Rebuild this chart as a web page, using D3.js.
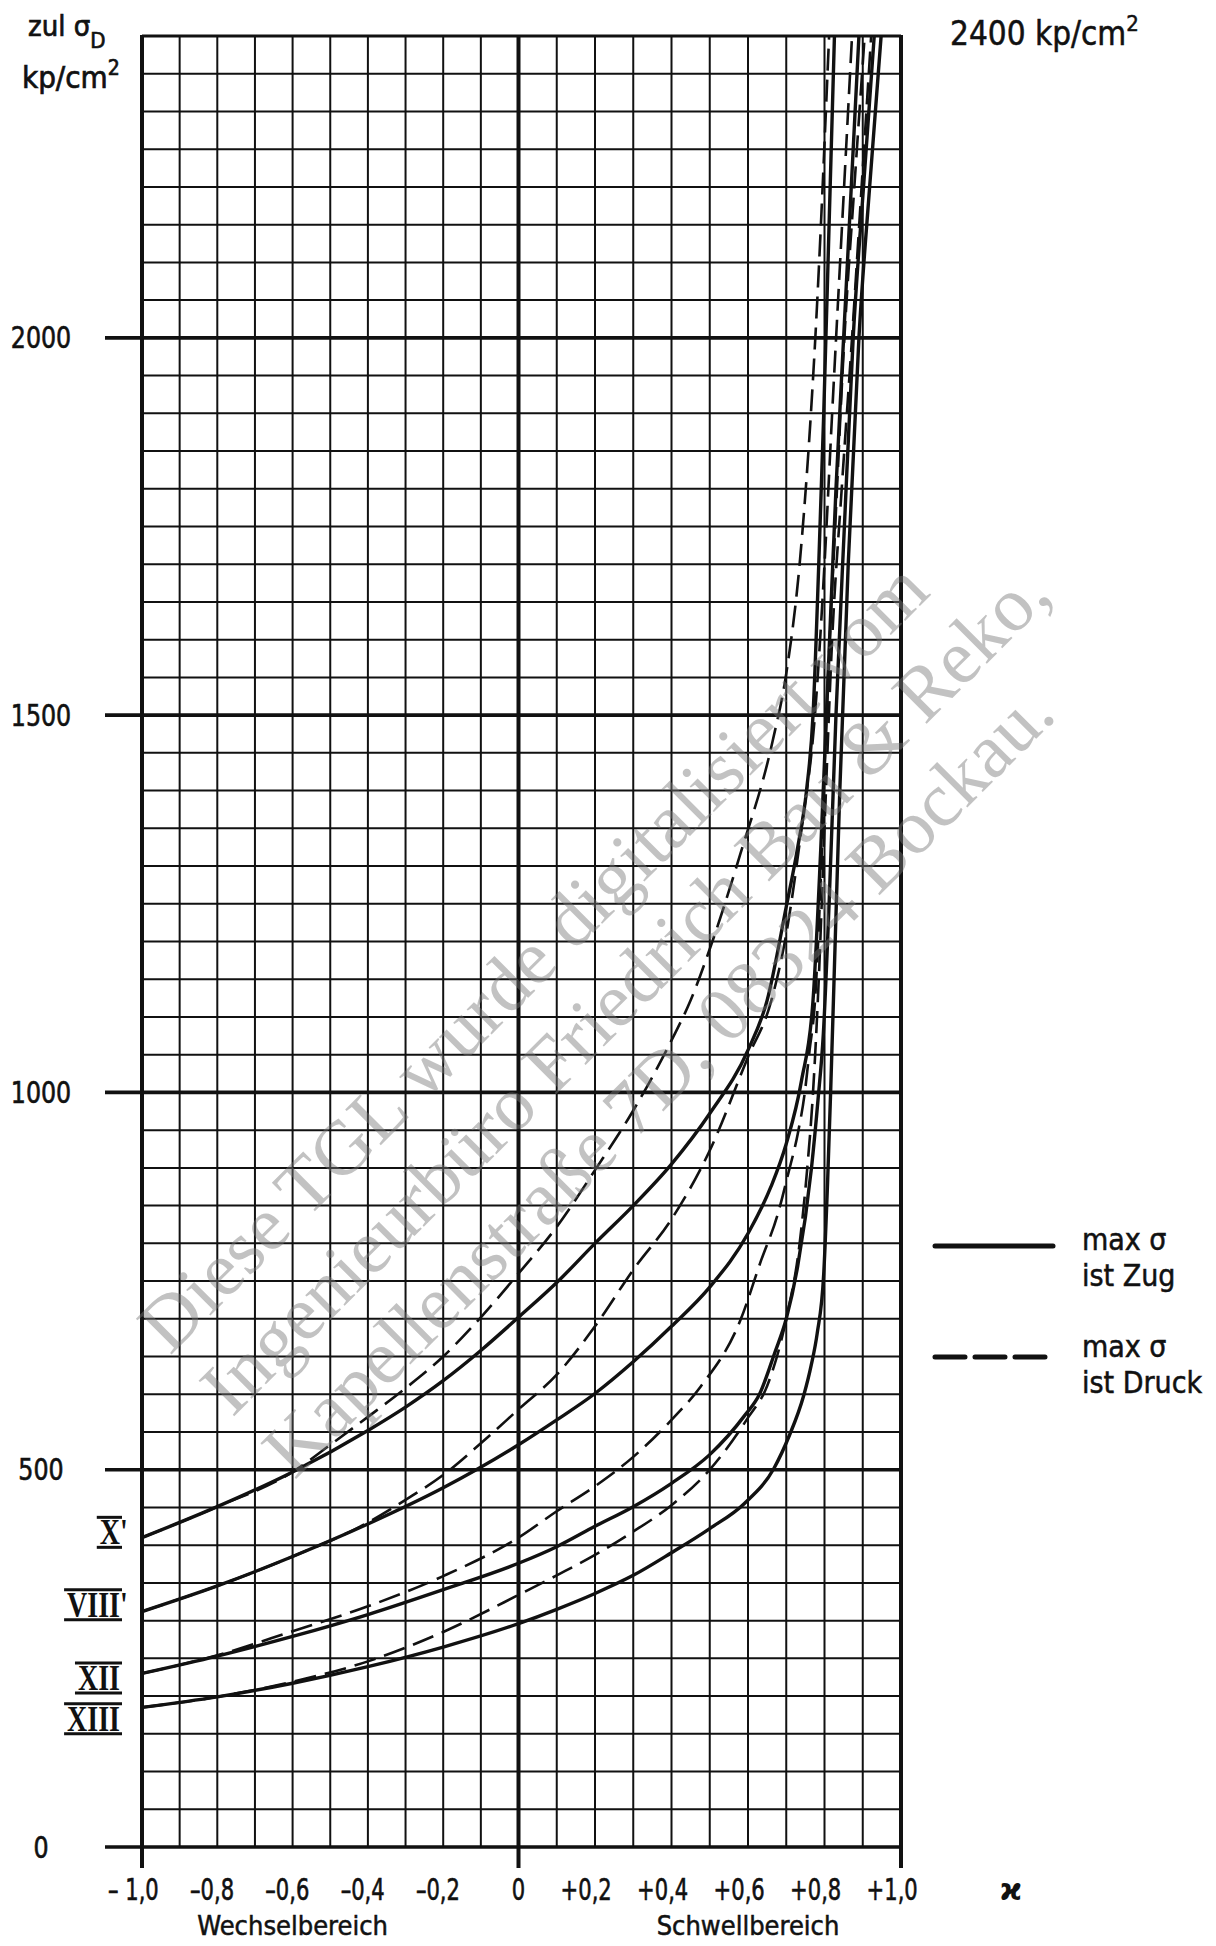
<!DOCTYPE html>
<html><head><meta charset="utf-8">
<script src="https://cdn.jsdelivr.net/npm/d3@7"></script>
<style>
html,body{margin:0;padding:0;background:#fff;}
svg{display:block;}
</style></head><body>
<svg id="chart" width="1216" height="1946"></svg>
<script>
// ---------------- data ----------------
const xTickValues = [-1, -0.8, -0.6, -0.4, -0.2, 0, 0.2, 0.4, 0.6, 0.8, 1];
const xTickLabels = ["– 1,0", "–0,8", "–0,6", "–0,4", "–0,2", "0", "+0,2", "+0,4", "+0,6", "+0,8", "+1,0"];
const xTickSignLen = [2, 1, 1, 1, 1, 0, 1, 1, 1, 1, 1];
const yTickValues = [0, 500, 1000, 1500, 2000];
const yTickLabels = ["0", "500", "1000", "1500", "2000"];

const curveNames = ["X'", "VIII'", "XII", "XIII"];
const curveNameLen = [1, 4, 3, 4];
const curveLabelNudge = [7, 9, -6, -15];

// max σ ist Zug (solid)
const zugX = [[-1,410],[-0.8,451],[-0.6,497],[-0.4,552],[-0.3,583],[-0.2,618],[-0.1,658],[0,702],[0.1,748],[0.2,800],[0.3,850],[0.4,905],[0.5,972],[0.6,1056],[0.65,1122],[0.7,1246],[0.73,1325],[0.753,1400],[0.77,1500],[0.785,1700],[0.798,1900],[0.812,2150],[0.826,2400]];
const zugVIII = [[-1,312],[-0.8,346],[-0.6,385],[-0.4,428],[-0.2,476],[0,533],[0.1,566],[0.2,601],[0.3,643],[0.4,690],[0.5,742],[0.6,813],[0.66,875],[0.7,932],[0.74,1016],[0.77,1122],[0.79,1320],[0.81,1560],[0.83,1800],[0.85,2000],[0.87,2200],[0.89,2400]];
const zugXII = [[-1,230],[-0.8,253],[-0.6,279],[-0.4,308],[-0.2,341],[0,376],[0.1,398],[0.2,425],[0.3,451],[0.4,482],[0.5,520],[0.59,571],[0.63,600],[0.67,655],[0.7,700],[0.73,770],[0.766,900],[0.783,990],[0.797,1078],[0.812,1250],[0.83,1500],[0.852,1750],[0.875,2000],[0.902,2200],[0.93,2400]];
const zugXIII = [[-1,185],[-0.8,199],[-0.6,217],[-0.4,239],[-0.2,265],[0,296],[0.1,315],[0.2,336],[0.3,360],[0.4,390],[0.5,422],[0.59,455],[0.668,502],[0.707,544],[0.746,599],[0.765,638],[0.781,681],[0.798,760],[0.808,880],[0.816,1000],[0.825,1150],[0.84,1400],[0.862,1700],[0.89,2000],[0.918,2200],[0.948,2400]];

// max σ ist Druck (dashed)
const druckX = [[-1,410],[-0.8,451],[-0.6,497],[-0.5,533],[-0.4,570],[-0.3,608],[-0.2,650],[-0.1,702],[0,760],[0.1,822],[0.2,897],[0.3,976],[0.4,1069],[0.45,1122],[0.5,1190],[0.58,1316],[0.665,1467],[0.7,1555],[0.736,1706],[0.776,2000],[0.812,2400]];
const druckVIII = [[-1,312],[-0.8,346],[-0.6,385],[-0.4,430],[-0.3,460],[-0.2,493],[-0.1,535],[0,580],[0.1,626],[0.2,690],[0.3,765],[0.4,832],[0.5,923],[0.6,1047],[0.66,1120],[0.7,1210],[0.74,1350],[0.775,1500],[0.8,1700],[0.82,1900],[0.846,2150],[0.872,2400]];
const druckXII = [[-1,230],[-0.8,254],[-0.6,286],[-0.4,319],[-0.2,359],[0,410],[0.1,445],[0.2,478],[0.3,517],[0.4,566],[0.476,610],[0.58,698],[0.634,777],[0.678,839],[0.705,892],[0.73,945],[0.748,998],[0.761,1056],[0.775,1120],[0.79,1280],[0.805,1500],[0.828,1750],[0.852,2000],[0.878,2200],[0.905,2400]];
const druckXIII = [[-1,185],[-0.8,199],[-0.6,219],[-0.4,246],[-0.2,285],[0,334],[0.1,360],[0.2,387],[0.3,418],[0.4,453],[0.5,500],[0.6,569],[0.65,611],[0.7,700],[0.735,800],[0.755,900],[0.77,1000],[0.785,1150],[0.8,1350],[0.82,1600],[0.845,1800],[0.872,2000],[0.897,2200],[0.922,2400]];

const zugSeries = [zugX, zugVIII, zugXII, zugXIII];
const druckSeries = [druckX, druckVIII, druckXII, druckXIII];

const legendLabels = [["max σ", "ist Zug"], ["max σ", "ist Druck"]];
const watermarkLines = ["Diese TGL wurde digitalisiert vom", "Ingenieurbüro Friedrich Bau & Reko,", "Kapellenstraße 7D, 08324 Bockau."];

// ---------------- drawing ----------------
const INK = "#111";
const FONT = "'DejaVu Sans Condensed','DejaVu Sans',sans-serif";
const SERIF = "'Liberation Serif','DejaVu Serif',serif";
const svg = d3.select("#chart");
svg.append("rect").attr("width", 1216).attr("height", 1946).attr("fill", "#fff");

const x = d3.scaleLinear().domain([-1, 0, 1]).range([142, 518.5, 901]);
const y = d3.scaleLinear().domain([0, 2400]).range([1847, 36]);

// squeeze helper (narrow lettering of the original)
function squeeze(sel, f) {
  sel.each(function() {
    const w = this.getComputedTextLength();
    d3.select(this).attr("textLength", w * f).attr("lengthAdjust", "spacingAndGlyphs");
  });
}

// grid
const grid = svg.append("g");
const vLines = d3.range(-10, 11).map(i => i / 10);
grid.selectAll("line.v").data(vLines).join("line")
  .attr("x1", d => x(d)).attr("x2", d => x(d))
  .attr("y1", y(2400) - 1)
  .attr("y2", d => (Math.abs(d) === 1 || d === 0) ? y(0) + 21 : y(0))
  .attr("stroke", INK)
  .attr("stroke-width", d => (Math.abs(d) === 1 || d === 0) ? 4 : 2);
const hLines = d3.range(0, 2401, 50);
grid.selectAll("line.h").data(hLines).join("line")
  .attr("x1", d => (d % 500 === 0) ? 105 : x(-1))
  .attr("x2", x(1))
  .attr("y1", d => y(d)).attr("y2", d => y(d))
  .attr("stroke", INK)
  .attr("stroke-width", d => (d % 500 === 0) ? 3.6 : (d === 2400 ? 2.8 : 2));

// clip
svg.append("clipPath").attr("id", "plotclip").append("rect")
  .attr("x", x(-1)).attr("y", y(2400)).attr("width", x(1) - x(-1)).attr("height", y(0) - y(2400));

const line = d3.line().x(d => x(d[0])).y(d => y(d[1])).curve(d3.curveMonotoneX);
const curves = svg.append("g").attr("clip-path", "url(#plotclip)");
curves.selectAll("path.druck").data(druckSeries).join("path")
  .attr("d", line).attr("fill", "none").attr("stroke", INK)
  .attr("stroke-width", 2.6).attr("stroke-dasharray", "22,9");
curves.selectAll("path.zug").data(zugSeries).join("path")
  .attr("d", line).attr("fill", "none").attr("stroke", INK)
  .attr("stroke-width", 3.4);

// y tick labels
const ytl = svg.selectAll("text.ytick").data(yTickValues).join("text")
  .attr("x", 41).attr("y", d => y(d))
  .attr("text-anchor", "middle").attr("dominant-baseline", "central")
  .attr("font-family", FONT).attr("font-size", 30).attr("fill", INK)
  .attr("stroke", INK).attr("stroke-width", 0.6)
  .text((d, i) => yTickLabels[i]);
squeeze(ytl, 0.88);

// x tick labels: digits centred on the tick, sign hanging left
const XF = 0.78;
const xt = svg.selectAll("text.xtick").data(xTickValues).join("text")
  .attr("y", 1900)
  .attr("font-family", FONT).attr("font-size", 30).attr("fill", INK)
  .attr("stroke", INK).attr("stroke-width", 0.6)
  .attr("text-anchor", "start")
  .text((d, i) => xTickLabels[i]);
xt.each(function(d, i) {
  const total = this.getComputedTextLength();
  const n = xTickSignLen[i];
  const signW = n > 0 ? this.getSubStringLength(0, n) : 0;
  d3.select(this)
    .attr("x", x(d) - (signW + (total - signW) / 2) * XF)
    .attr("textLength", total * XF).attr("lengthAdjust", "spacingAndGlyphs");
});

// axis captions
const cap1 = svg.append("text").attr("x", x(-0.6)).attr("y", 1935).attr("text-anchor", "middle")
  .attr("font-family", FONT).attr("font-size", 27).attr("fill", INK)
  .attr("stroke", INK).attr("stroke-width", 0.5).text("Wechselbereich");
const cap2 = svg.append("text").attr("x", x(0.6)).attr("y", 1935).attr("text-anchor", "middle")
  .attr("font-family", FONT).attr("font-size", 27).attr("fill", INK)
  .attr("stroke", INK).attr("stroke-width", 0.5).text("Schwellbereich");
squeeze(cap1, 1.0); squeeze(cap2, 1.0);
svg.append("text").attr("x", 1011).attr("y", 1900).attr("text-anchor", "middle")
  .attr("font-family", "'DejaVu Sans',sans-serif").attr("font-weight", "bold").attr("font-size", 30).attr("fill", INK).text("ϰ");

// y axis title
const yt = svg.append("text").attr("x", 28).attr("y", 36)
  .attr("font-family", FONT).attr("font-size", 29).attr("fill", INK)
  .attr("stroke", INK).attr("stroke-width", 0.7);
yt.append("tspan").text("zul σ");
yt.append("tspan").attr("dy", 12).attr("font-size", 22).text("D");
const yu = svg.append("text").attr("x", 22).attr("y", 88)
  .attr("font-family", FONT).attr("font-size", 31).attr("fill", INK)
  .attr("stroke", INK).attr("stroke-width", 0.7);
yu.append("tspan").text("kp/cm");
yu.append("tspan").attr("dy", -13).attr("font-size", 21).text("2");

// top right annotation
const tr = svg.append("text").attr("x", 950).attr("y", 45)
  .attr("font-family", FONT).attr("font-size", 33).attr("fill", INK)
  .attr("stroke", INK).attr("stroke-width", 0.5);
tr.append("tspan").text("2400 kp/cm");
tr.append("tspan").attr("dy", -14).attr("font-size", 22).text("2");

// curve labels (roman numerals with bars)
const NF = 0.8;
const cn = svg.selectAll("g.cname").data(curveNames).join("g");
cn.each(function(d, i) {
  const g = d3.select(this);
  const cy = y(zugSeries[i][0][1] + curveLabelNudge[i]);
  const t = g.append("text").attr("y", cy + 12)
    .attr("font-family", SERIF).attr("font-weight", "bold").attr("font-size", 35)
    .attr("fill", INK).text(d);
  const node = t.node();
  const total = node.getComputedTextLength();
  const nw = node.getSubStringLength(0, curveNameLen[i]);
  const x0 = 120 - nw * NF;
  t.attr("x", x0).attr("textLength", total * NF).attr("lengthAdjust", "spacingAndGlyphs");
  [-15, 15].forEach(o => {
    g.append("line").attr("x1", x0 - 3).attr("x2", 122).attr("y1", cy + o).attr("y2", cy + o)
      .attr("stroke", INK).attr("stroke-width", 3);
  });
});

// legend
const lg = svg.append("g");
lg.append("line").attr("x1", 935).attr("x2", 1053).attr("y1", 1246).attr("y2", 1246)
  .attr("stroke", INK).attr("stroke-width", 5).attr("stroke-linecap", "round");
lg.append("line").attr("x1", 935).attr("x2", 1053).attr("y1", 1357).attr("y2", 1357)
  .attr("stroke", INK).attr("stroke-width", 5).attr("stroke-linecap", "round")
  .attr("stroke-dasharray", "30,10");
legendLabels.forEach((lines, k) => {
  lines.forEach((t, j) => {
    lg.append("text").attr("x", 1082).attr("y", (k === 0 ? 1250 : 1357) + j * 36)
      .attr("font-family", FONT).attr("font-size", 30).attr("fill", INK)
      .attr("stroke", INK).attr("stroke-width", 0.5).text(t);
  });
});

// watermark
const wm = svg.append("g").attr("transform", "translate(170,1356) rotate(-45)");
wm.selectAll("text").data(watermarkLines).join("text")
  .attr("x", 0).attr("y", (d, i) => i * 88)
  .attr("font-family", SERIF).attr("font-size", 77)
  .attr("fill", "#777").attr("fill-opacity", 0.45)
  .text(d => d);
</script>
</body></html>
